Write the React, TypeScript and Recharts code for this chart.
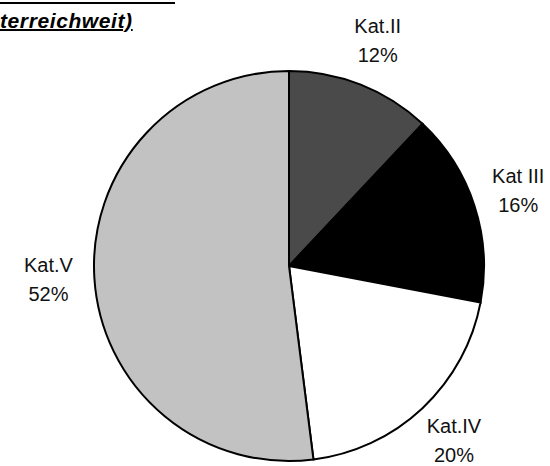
import React from "react";
import { PieChart, Pie, Cell } from "recharts";

const categories = ["Kat.II", "Kat III", "Kat.IV", "Kat.V"];
const shares = [12, 16, 20, 52];
const titleText = "terreichweit)";

const sliceColors = ["#4a4a4a", "#000000", "#ffffff", "#c2c2c2"];

const data = categories.map((name, i) => ({ name, value: shares[i] }));

const RADIAN = Math.PI / 180;

const renderLabel = (props: any) => {
  const { cx, cy, midAngle, outerRadius, index } = props;
  const r = outerRadius + 46;
  const x = cx + r * Math.cos(-midAngle * RADIAN);
  const y = cy + r * Math.sin(-midAngle * RADIAN);
  return (
    <text
      x={x}
      y={y}
      textAnchor="middle"
      fontFamily="'Liberation Sans', Arial, sans-serif"
      fontSize={20}
      fill="#111"
    >
      <tspan x={x} y={y - 9}>
        {categories[index]}
      </tspan>
      <tspan x={x} y={y + 20}>
        {shares[index] + "%"}
      </tspan>
    </text>
  );
};

export default function App() {
  return (
    <div
      style={{
        position: "absolute",
        left: 0,
        top: 0,
        width: 550,
        height: 466,
        background: "#fff",
        overflow: "hidden",
      }}
    >
      <div
        style={{
          position: "absolute",
          left: 0,
          top: 2,
          width: 175,
          height: 2,
          background: "#000",
        }}
      />
      <div
        style={{
          position: "absolute",
          left: 0,
          top: 9,
          fontFamily: "'Liberation Sans', Arial, sans-serif",
          fontWeight: "bold",
          fontStyle: "italic",
          fontSize: 21,
          letterSpacing: 0.6,
          textDecoration: "underline",
          textDecorationThickness: 2,
          color: "#000",
          lineHeight: "24px",
          whiteSpace: "nowrap",
        }}
      >
        {titleText}
      </div>
      <div style={{ position: "absolute", left: 0, top: 0 }}>
        <PieChart
          width={550}
          height={466}
          margin={{ top: 0, right: 0, bottom: 0, left: 0 }}
        >
          <Pie
            data={data}
            dataKey="value"
            nameKey="name"
            cx={289}
            cy={266}
            outerRadius={195}
            startAngle={90}
            endAngle={-270}
            stroke="#000"
            strokeWidth={2}
            labelLine={false}
            label={renderLabel}
            isAnimationActive={false}
          >
            {data.map((d, i) => (
              <Cell key={d.name} fill={sliceColors[i]} />
            ))}
          </Pie>
        </PieChart>
      </div>
    </div>
  );
}
